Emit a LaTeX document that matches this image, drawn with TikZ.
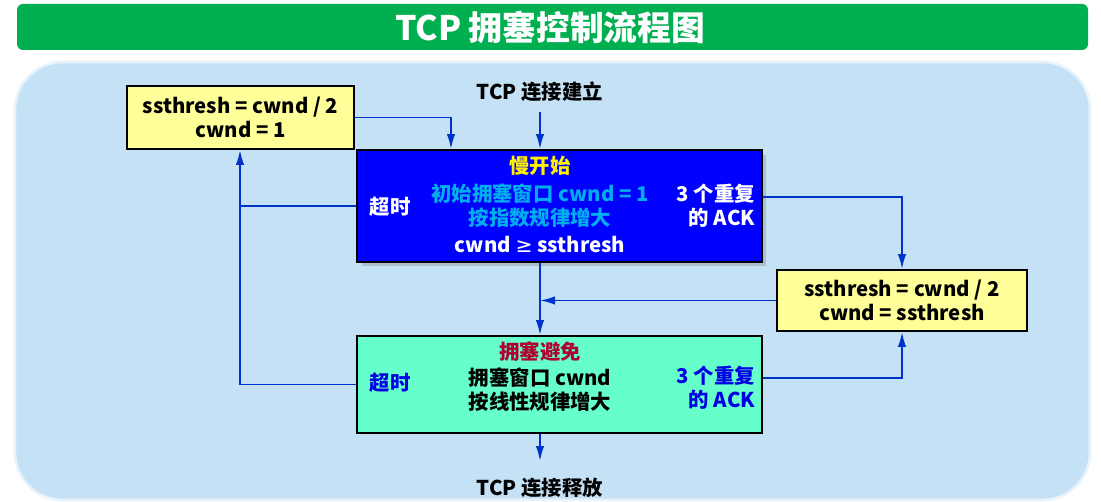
\documentclass[tikz,border=0pt]{standalone}
\usepackage{fontspec}
\setmainfont{Noto Sans CJK SC}
\newfontfamily\symfont{DejaVu Sans}
\usetikzlibrary{arrows.meta,shadows}

\definecolor{titlegreen}{RGB}{0,176,80}
\definecolor{bgblue}{RGB}{197,225,246}
\definecolor{boxyellow}{RGB}{255,255,153}
\definecolor{ssblue}{RGB}{0,0,255}
\definecolor{cagreen}{RGB}{102,255,204}
\definecolor{linkblue}{RGB}{0,51,204}
\definecolor{cadarkred}{RGB}{176,0,48}
\definecolor{catextblue}{RGB}{0,0,230}

\begin{document}
\begin{tikzpicture}[x=0.02cm, y=-0.02cm,
    every node/.style={font=\fontsize{11.6}{13.6}\selectfont\bfseries, inner sep=1pt},
    box/.style={draw=black, line width=1.1pt},
    link/.style={linkblue, line width=1.1pt, -{Latex[length=0.3cm,width=0.17cm]}},
    linkline/.style={linkblue, line width=1.1pt}]

    \useasboundingbox (0,0) rectangle (1101,502);

    % --- Title bar ---
    \fill[titlegreen, rounded corners=0.12cm] (17,4) rectangle (1088,50);
    \node[text=white, font=\fontsize{19.2}{22}\selectfont\bfseries] (title) at (550,27) {TCP 拥塞控制流程图};

    % --- Background panel ---
    \draw[fill=bgblue, draw=white!60!bgblue, line width=1.5pt, rounded corners=0.95cm] (15,62) rectangle (1090,500);

    % --- Start / end labels ---
    \node (start) at (540,92) {TCP 连接建立};
    \node (finish) at (540,488) {TCP 连接释放};

    % Reset box (timeout)
    \node[box, fill=boxyellow, minimum width=4.54cm, minimum height=1.26cm, align=center] (reset1) at (240.5,117.5)
        {ssthresh = cwnd / 2\\cwnd = 1};

    % --- Slow start ---
    \node[box, fill=ssblue, minimum width=8.1cm, minimum height=2.24cm,
          drop shadow={opacity=0.35, shadow xshift=0.09cm, shadow yshift=-0.09cm}] (ss) at (559.5,206) {};
    \node[text=yellow] (sstitle) at (540,166) {慢开始};
    \node[text=cyan, align=center] (ssrule) at (540,206) {初始拥塞窗口 cwnd = 1\\按指数规律增大};
    \node[text=white] (sscond) at (540,245) {cwnd {\symfont\mdseries ≥} ssthresh};
    \node[text=white] (sstimeout) at (390,207) {超时};
    \node[text=white, align=right] (ssdup) at (716,206) {3 个重复\\的 ACK};

    % Reset box (3 dup ACK)
    \node[box, fill=boxyellow, minimum width=5cm, minimum height=1.22cm, align=center] (reset2) at (902,300.5)
        {ssthresh = cwnd / 2\\cwnd = ssthresh};

    % --- Congestion avoidance ---
    \node[box, fill=cagreen, minimum width=8.1cm, minimum height=1.94cm] (ca) at (559.5,384.5) {};
    \node[text=cadarkred] (catitle) at (540,352) {拥塞避免};
    \node[align=center] (carule) at (540,390) {拥塞窗口 cwnd\\按线性规律增大};
    \node[text=catextblue] (catimeout) at (390,383) {超时};
    \node[text=catextblue, align=right] (cadup) at (716,388) {3 个重复\\的 ACK};

    % bus lines
    \coordinate (leftbus) at (240,0);
    \coordinate (mid) at (540,0);
    \coordinate (entry) at (451,0);

    % --- Connectors ---
    \draw[link] ([yshift=-0.16cm]start.south) -- (ss.north -| start.south);
    \draw[link] (reset1.east) -| (ss.north -| entry);
    \draw[linkline] (ss.west) -- (ss.west -| leftbus);
    \draw[link] (ca.west) -| (reset1.south -| leftbus);
    \draw[link] ([yshift=0.18cm]ss.east) -| (reset2.north);
    \draw[link] ([yshift=0.13cm]ca.east) -| (reset2.south);
    \draw[link] (reset2.west) -- (reset2.west -| mid);
    \draw[link] (ss.south -| mid) -- (ca.north -| mid);
    \draw[link] (ca.south -| mid) -- ([yshift=0.3cm]finish.north);

\end{tikzpicture}
\end{document}
